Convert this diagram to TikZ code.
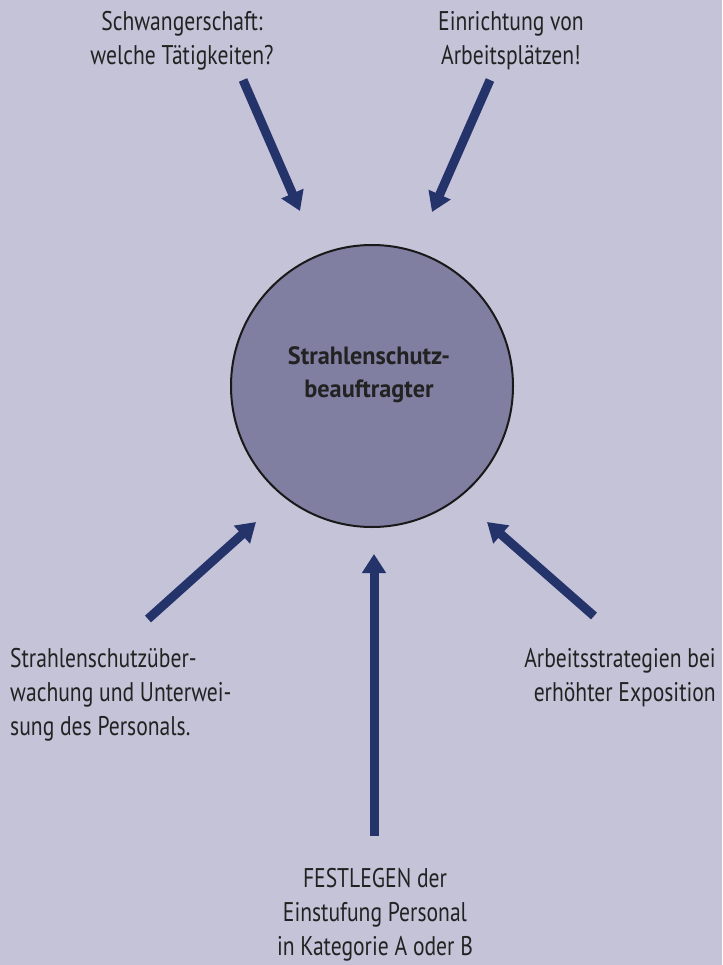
\documentclass[tikz,border=0pt]{standalone}
\usepackage{fontspec}
\setmainfont{PT Sans}[FakeStretch=0.8]
\newfontfamily\boldfam{PT Sans Bold}[FakeStretch=0.97]
\usetikzlibrary{arrows.meta}
\definecolor{bgcol}{HTML}{C5C3D8}
\definecolor{circcol}{HTML}{807FA2}
\definecolor{arrcol}{HTML}{25336B}
\definecolor{txtcol}{HTML}{222222}
\tikzset{
  lbl/.style={text=txtcol, font=\fontsize{27}{34}\selectfont, inner sep=0pt},
  bigarrow/.style={draw=arrcol, line width=9pt, -{Triangle[width=23pt,length=19pt]}},
}
\begin{document}
\begin{tikzpicture}[x=1pt,y=-1pt]
\fill[bgcol] (0,0) rectangle (722,965);
\useasboundingbox (0,0) rectangle (722,965);
\node[circle, draw=black!90, line width=2pt, fill=circcol, minimum size=282pt, inner sep=0pt] (sb) at (372,386) {};
\node[lbl, align=center, anchor=north, font=\fontsize{25}{33}\boldfam] (sbt) at (369,346) {Strahlenschutz-\\beauftragter};
% texts
\node[lbl, align=center, anchor=north] (t1) at (182,11) {Schwangerschaft:\\welche Tätigkeiten?};
\node[lbl, align=center, anchor=north] (t2) at (511,11) {Einrichtung von\\Arbeitsplätzen!};
\node[lbl, align=left, anchor=north west] (t3) at (10,648) {Strahlenschutzüber-\\wachung und Unterwei-\\sung des Personals.};
\node[lbl, align=right, anchor=north east] (t4) at (716,648) {Arbeitsstrategien bei\\erhöhter Exposition};
\node[lbl, align=center, anchor=north] (t5) at (375,868) {FESTLEGEN der\\Einstufung Personal\\in Kategorie A oder B};
% arrow coordinates
\coordinate (a1s) at (243,80);  \coordinate (a1e) at (300,211);
\coordinate (a2s) at (490,80);  \coordinate (a2e) at (432,212);
\coordinate (a3s) at (148,619); \coordinate (a3e) at (256,522);
\coordinate (a4s) at (374,836); \coordinate (a4e) at (374,554);
\coordinate (a5s) at (594,616); \coordinate (a5e) at (487,522);
\draw[bigarrow] (a1s) -- (a1e);
\draw[bigarrow] (a2s) -- (a2e);
\draw[bigarrow] (a3s) -- (a3e);
\draw[bigarrow] (a4s) -- (a4e);
\draw[bigarrow] (a5s) -- (a5e);
\end{tikzpicture}
\end{document}
